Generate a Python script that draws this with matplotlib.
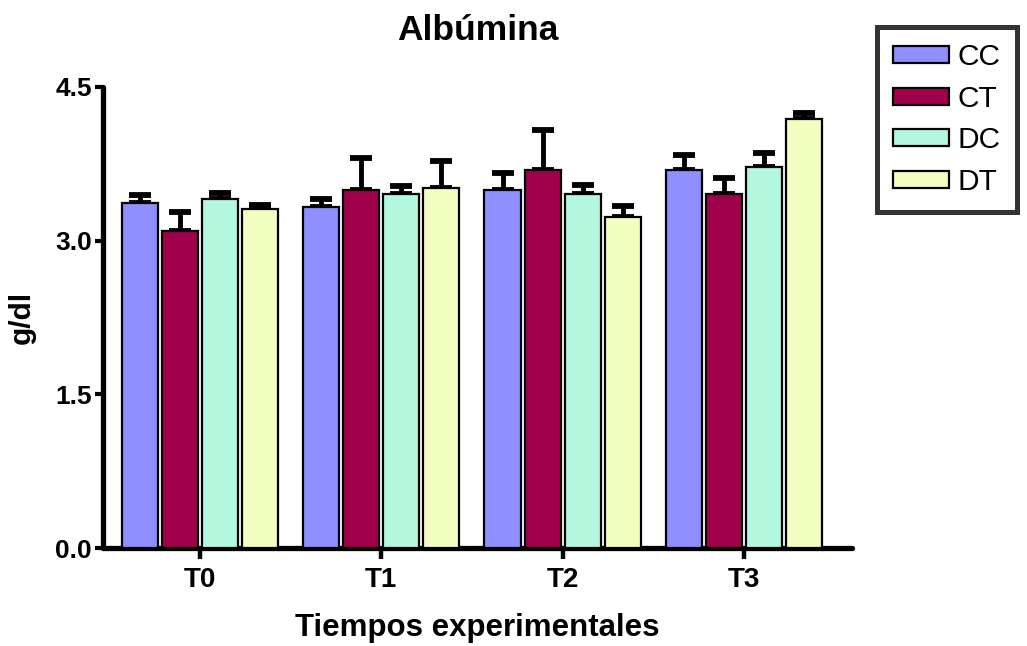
"""
Albumina por grupo y tiempo experimental, barras con error superior
"""
import numpy as np
import matplotlib
matplotlib.use("Agg")
import matplotlib.pyplot as pl

pl.rcParams['font.family'] = ['Liberation Sans', 'DejaVu Sans']

tiempos = ["T0", "T1", "T2", "T3"]
grupos = ["CC", "CT", "DC", "DT"]
colores = ["#8F8FFF", "#A0004A", "#B3F7DF", "#F3FFC0"]

# medias (g/dl) por grupo en T0..T3
medias = {
    "CC": [3.37, 3.33, 3.49, 3.69],
    "CT": [3.09, 3.49, 3.69, 3.46],
    "DC": [3.41, 3.46, 3.46, 3.72],
    "DT": [3.31, 3.51, 3.23, 4.19],
}
# error (solo hacia arriba)
errores = {
    "CC": [0.08, 0.08, 0.17, 0.15],
    "CT": [0.19, 0.32, 0.39, 0.15],
    "DC": [0.06, 0.07, 0.08, 0.14],
    "DT": [0.04, 0.27, 0.11, 0.06],
}

fig = pl.figure(figsize=(10.27, 6.46), dpi=100)
ax = fig.add_axes([103/1027, 98/646, (852-103)/1027, (548-87)/646])

x = np.arange(len(tiempos))
paso = 0.221
ancho = 0.199
for i, (g, c) in enumerate(zip(grupos, colores)):
    xs = x + (i - 1.5) * paso
    ax.bar(xs, medias[g], width=ancho, color=c, edgecolor='black',
           linewidth=1.6, label=g, zorder=3)
    eb = ax.errorbar(xs, medias[g], yerr=[np.zeros(len(tiempos)), errores[g]],
                     fmt='none', ecolor='black', elinewidth=3.5, capsize=8,
                     capthick=4.2, zorder=2)
    for cap in eb[1]:
        cap.set_solid_capstyle('round')

ax.set_xlim(-0.536, 3.597)
ax.set_ylim(0, 4.5)
ax.set_yticks([0.0, 1.5, 3.0, 4.5])
ax.set_yticklabels(["0.0", "1.5", "3.0", "4.5"])
ax.set_xticks(x)
ax.set_xticklabels(tiempos)

for s in ['top', 'right']:
    ax.spines[s].set_visible(False)
for s in ['left', 'bottom']:
    ax.spines[s].set_linewidth(3.8)
    ax.spines[s].set_capstyle('round')
ax.tick_params(axis='y', width=3, length=6, labelsize=19, pad=2)
ax.tick_params(axis='x', width=3.2, length=8, labelsize=20, pad=6)
for lab in ax.get_xticklabels() + ax.get_yticklabels():
    lab.set_fontweight('bold')

ax.set_title("Albúmina", fontsize=25.5, fontweight='bold', pad=34)
ax.set_xlabel("Tiempos experimentales", fontsize=22.5, fontweight='bold', labelpad=14)
ax.set_ylabel("g/dl", fontsize=21.5, fontweight='bold', labelpad=14)

leg = fig.legend(loc='upper left', bbox_to_anchor=(877/1027, 1 - 27/646),
                 fontsize=21.5, frameon=True, fancybox=False, borderaxespad=0,
                 handlelength=1.85, handleheight=0.5, handletextpad=0.3,
                 labelspacing=0.45, borderpad=0.55)
leg.get_frame().set_edgecolor('black')
leg.get_frame().set_linewidth(3.6)

fig.savefig("out.png", dpi=100)
